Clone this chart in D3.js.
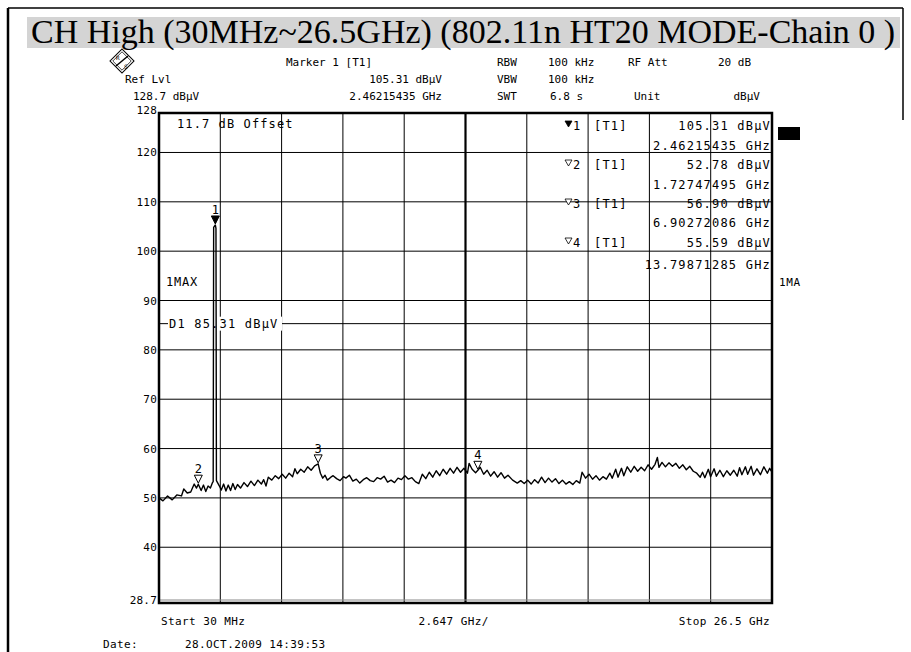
<!DOCTYPE html>
<html><head><meta charset="utf-8">
<script src="https://cdn.jsdelivr.net/npm/d3@7/dist/d3.min.js"></script>
<style>
html,body{margin:0;padding:0;background:#fff;}
svg text{font-family:"DejaVu Sans Mono","Liberation Mono",monospace;}
</style></head>
<body>
<svg id="c" width="911" height="652"></svg>
<script>
// ---- data ----
const titleText = "CH High (30MHz~26.5GHz) (802.11n HT20 MODE-Chain 0 )";
const startGHz = 0.03, stopGHz = 26.5, spanPerDiv = 2.647;
const refLevel = 128, bottomLevel = 28.7;
const yTickValues = [120, 110, 100, 90, 80, 70, 60, 50, 40];
const yTickLabels = ["128","120","110","100","90","80","70","60","50","40","28.7"];
const displayLine = 85.31;
// trace: frequency (GHz) and level (dBµV), read point by point
const traceFreq = [
 0.03,0.2,0.4,0.6,0.8,1.0,1.1,1.25,1.4,1.55,
 1.65,1.727,1.85,1.95,2.05,2.15,2.25,2.34,2.37,2.39,
 2.462,2.49,2.51,2.64,2.72,2.82,2.92,3.02,3.12,3.22,
 3.32,3.42,3.55,3.7,3.85,4.0,4.15,4.3,4.45,4.55,
 4.65,4.75,4.9,5.05,5.2,5.35,5.5,5.65,5.8,5.9,
 6.0,6.15,6.3,6.45,6.6,6.75,6.903,7.0,7.1,7.2,
 7.3,7.45,7.55,7.7,7.85,8.0,8.1,8.25,8.4,8.55,
 8.7,8.85,9.0,9.15,9.3,9.45,9.6,9.75,9.9,10.05,
 10.2,10.35,10.5,10.65,10.8,10.95,11.1,11.25,11.4,11.55,
 11.7,11.85,12.0,12.15,12.3,12.45,12.6,12.75,12.9,13.05,
 13.2,13.35,13.42,13.55,13.7,13.799,13.9,14.05,14.2,14.35,
 14.5,14.65,14.8,14.95,15.1,15.3,15.5,15.65,15.8,15.95,
 16.1,16.25,16.4,16.55,16.7,16.85,17.0,17.15,17.3,17.45,
 17.6,17.75,17.9,18.05,18.2,18.3,18.45,18.6,18.75,18.9,
 19.05,19.2,19.35,19.5,19.6,19.75,19.85,20.0,20.1,20.25,
 20.4,20.55,20.7,20.85,21.0,21.15,21.3,21.45,21.55,21.62,
 21.75,21.9,22.05,22.2,22.35,22.5,22.65,22.8,22.95,23.1,
 23.25,23.4,23.5,23.6,23.75,23.85,24.0,24.1,24.25,24.4,
 24.55,24.7,24.85,25.0,25.1,25.2,25.35,25.45,25.6,25.7,
 25.85,26.0,26.15,26.3,26.4,26.5];
const traceLevel = [
 50.0,49.4,50.4,49.6,50.6,50.4,51.8,51.0,51.2,52.8,
 52.0,52.78,51.5,52.6,51.3,52.4,52.0,53.1,53.3,104.8,
 105.31,104.6,53.5,52.4,51.6,52.8,51.4,52.6,51.5,52.9,
 51.7,52.7,52.0,53.1,52.3,53.4,52.5,53.6,52.8,53.7,
 52.4,54.2,53.6,54.5,53.9,54.8,54.0,55.0,54.3,55.9,
 54.9,55.8,55.2,56.3,55.6,56.5,56.9,55.0,54.0,54.6,
 53.6,54.2,54.5,53.9,53.5,54.3,54.0,54.6,53.4,53.8,
 53.0,53.7,54.1,53.5,53.3,54.1,53.8,54.4,53.2,53.6,
 53.1,54.0,53.7,54.5,53.8,54.1,53.3,52.9,54.8,53.9,
 55.2,54.2,55.5,54.5,55.8,54.8,56.0,55.0,56.2,55.2,
 56.0,55.0,57.0,55.8,55.1,55.59,56.2,54.8,55.6,54.4,
 55.3,54.2,55.1,54.0,54.6,53.6,53.0,53.5,52.9,53.6,
 52.8,53.7,53.0,54.2,53.1,54.0,53.2,53.9,52.9,53.6,
 52.8,53.3,52.7,53.5,53.0,55.2,54.0,54.8,53.8,54.5,
 53.6,54.3,53.8,55.0,54.0,55.8,54.2,56.0,54.5,56.3,
 55.2,56.4,55.4,56.2,55.5,56.7,55.8,56.8,58.2,56.2,
 57.2,56.3,57.1,56.4,57.0,56.0,56.7,55.7,56.4,55.4,
 55.0,54.2,55.2,54.1,55.8,54.3,55.9,54.4,55.6,54.3,
 55.5,54.6,55.6,54.4,56.1,54.7,56.3,54.8,56.4,54.6,
 55.9,54.7,56.3,55.0,56.0,55.2];
// markers
const markerNames = ["1","2","3","4"];
const markerFreq = [2.46215435, 1.72747495, 6.90272086, 13.79871285];
const markerLevel = [105.31, 52.78, 56.90, 55.59];
const markerFreqText = ["2.46215435 GHz","1.72747495 GHz","6.90272086 GHz","13.79871285 GHz"];
const markerLevelText = ["105.31 dBµV","52.78 dBµV","56.90 dBµV","55.59 dBµV"];
// header texts
const headerRow1 = [["Marker 1 [T1]",286,"start"],["RBW",497,"start"],["100 kHz",548,"start"],["RF Att",628,"start"],["20 dB",718,"start"]];
const headerRow2 = [["Ref Lvl",125,"start"],["105.31 dBµV",442,"end"],["VBW",497,"start"],["100 kHz",548,"start"]];
const headerRow3 = [["128.7 dBµV",133,"start"],["2.46215435 GHz",442,"end"],["SWT",497,"start"],["6.8 s",550,"start"],["Unit",634,"start"],["dBµV",760,"end"]];
const footerText = ["Start 30 MHz","2.647 GHz/","Stop 26.5 GHz"];
const dateLabel = "Date:", dateValue = "28.OCT.2009  14:39:53";

// ---- drawing ----
const svg = d3.select("#c");
const X0 = 159, X1 = 772, Y0 = 113, Y1 = 603;
const x = d3.scaleLinear().domain([startGHz, stopGHz]).range([X0, X1]);
const y = d3.scaleLinear().domain([bottomLevel, refLevel]).range([Y1, Y0]);

// outer frame (left, top, right stub)
svg.append("line").attr("x1",8).attr("x2",8).attr("y1",8).attr("y2",652).attr("stroke","#000").attr("stroke-width",2.5);
svg.append("line").attr("x1",8).attr("x2",903).attr("y1",8).attr("y2",8).attr("stroke","#000").attr("stroke-width",1.5);
svg.append("line").attr("x1",903).attr("x2",903).attr("y1",8).attr("y2",120).attr("stroke","#000").attr("stroke-width",1.5);

// title
svg.append("rect").attr("x",27).attr("y",17).attr("width",873).attr("height",31).attr("fill","#d4d4d4");
svg.append("text").attr("x",31).attr("y",43).text(titleText)
  .style("font-family","'Liberation Serif','Times New Roman',serif").style("font-size","34px").attr("fill","#000");

// logo
const logo = svg.append("g").attr("transform","translate(122,61) rotate(45)");
logo.append("rect").attr("x",-8.5).attr("y",-8.5).attr("width",17).attr("height",17).attr("fill","#fff").attr("stroke","#000").attr("stroke-width",1);
logo.append("rect").attr("x",-6.5).attr("y",-6.5).attr("width",13).attr("height",13).attr("fill","none").attr("stroke","#000").attr("stroke-width",0.7);
svg.append("line").attr("x1",116).attr("y1",66).attr("x2",128).attr("y2",56).attr("stroke","#000").attr("stroke-width",1.5);
svg.append("text").attr("x",116).attr("y",60).text("R").style("font-size","6px");
svg.append("text").attr("x",124).attr("y",69).text("S").style("font-size","6px");

const hdr = svg.append("g").style("font-size","11px");
function hrow(rows, yy){
  rows.forEach(r => hdr.append("text").attr("x", r[1]).attr("y", yy).attr("text-anchor", r[2]).text(r[0]));
}
hrow(headerRow1, 66);
hrow(headerRow2, 83);
hrow(headerRow3, 100);

// grid
const g = svg.append("g");
const divs = d3.range(11).map(i => startGHz + i*spanPerDiv);
g.selectAll(".vg").data(divs).enter().append("line")
  .attr("x1", d => x(d)).attr("x2", d => x(d)).attr("y1", Y0).attr("y2", Y1)
  .attr("stroke","#000").attr("stroke-width",(d,i)=> i===5 ? 2.2 : 1);
g.selectAll(".hg").data(yTickValues).enter().append("line")
  .attr("x1", X0).attr("x2", X1).attr("y1", d => y(d)).attr("y2", d => y(d))
  .attr("stroke","#000").attr("stroke-width",1);
g.append("line").attr("x1",X0).attr("x2",X1).attr("y1",Y1-3).attr("y2",Y1-3).attr("stroke","#888").attr("stroke-width",1);

// y labels
const yl = svg.append("g").style("font-size","11px").style("letter-spacing","0.2px").attr("text-anchor","end");
const yLabelVals = [refLevel, ...yTickValues, bottomLevel];
yl.selectAll("text").data(yLabelVals).enter().append("text")
  .attr("x", 157).attr("y", (d,i) => y(d) + (i===0 ? 1 : (i===yLabelVals.length-1 ? 1 : 4))).text((d,i) => yTickLabels[i]);

// display line D1
svg.append("line").attr("x1",X0).attr("x2",X1).attr("y1",y(displayLine)).attr("y2",y(displayLine)).attr("stroke","#000").attr("stroke-width",1);
svg.append("rect").attr("x",168).attr("y",y(displayLine)-7).attr("width",114).attr("height",14).attr("fill","#fff");
svg.append("text").attr("x",169).attr("y",y(displayLine)+4).text("D1 " + displayLine.toFixed(2) + " dBµV").style("font-size","12px").style("letter-spacing","1.2px");

// annotations inside
svg.append("text").attr("x",177).attr("y",128).text("11.7 dB Offset").style("font-size","12px").style("letter-spacing","1.1px");
svg.append("text").attr("x",166).attr("y",286).text("1MAX").style("font-size","12px").style("letter-spacing","0.8px");
svg.append("text").attr("x",779).attr("y",286).text("1MA").style("font-size","11px").style("letter-spacing","0.6px");
svg.append("rect").attr("x",778).attr("y",127).attr("width",22).attr("height",13).attr("fill","#000");

// marker table
const tbl = svg.append("g").style("font-size","12px").style("letter-spacing","1.2px");
const rowY = [130, 150, 169, 189, 208, 227, 247, 269];
markerNames.forEach((m,i) => {
  const yy = rowY[i*2];
  const tx = 565, ty = yy - 9;
  tbl.append("path").attr("d", `M${tx},${ty}L${tx+7},${ty}L${tx+3.5},${ty+6}Z`)
     .attr("fill", i===0 ? "#000" : "#fff").attr("stroke","#000").attr("stroke-width",0.8);
  tbl.append("text").attr("x",573).attr("y",yy).text(m);
  tbl.append("text").attr("x",594).attr("y",yy).text("[T1]");
  tbl.append("text").attr("x",771).attr("y",yy).attr("text-anchor","end").text(markerLevelText[i]);
  tbl.append("text").attr("x",771).attr("y",rowY[i*2+1]).attr("text-anchor","end").text(markerFreqText[i]);
});

// trace
const pts = traceFreq.map((f,i) => [f, traceLevel[i]]);
svg.append("path").datum(pts)
  .attr("d", d3.line().x(d => x(d[0])).y(d => y(d[1])))
  .attr("fill","none").attr("stroke","#000").attr("stroke-width",1.4).attr("stroke-linejoin","round");

// markers on trace
markerNames.forEach((m,i) => {
  const mx = x(markerFreq[i]), my = y(markerLevel[i]);
  svg.append("path").attr("d", `M${mx-4},${my-9}L${mx+4},${my-9}L${mx},${my-1}Z`)
    .attr("fill", i===0 ? "#000" : "#fff").attr("stroke","#000").attr("stroke-width",1);
  svg.append("text").attr("x",mx).attr("y",my-11).attr("text-anchor","middle").text(m).style("font-size","12px");
});

// frame of plot
svg.append("rect").attr("x",X0).attr("y",Y0).attr("width",X1-X0).attr("height",Y1-Y0)
  .attr("fill","none").attr("stroke","#000").attr("stroke-width",2.5);

// footer
const ft = svg.append("g").style("font-size","11px").style("letter-spacing","0.4px");
ft.append("text").attr("x",161).attr("y",625).text(footerText[0]);
ft.append("text").attr("x",x(startGHz + 5*spanPerDiv)-47).attr("y",625).text(footerText[1]);
ft.append("text").attr("x",770).attr("y",625).attr("text-anchor","end").text(footerText[2]);
ft.append("text").attr("x",103).attr("y",648).text(dateLabel);
ft.append("text").attr("x",185).attr("y",648).text(dateValue);
</script>
</body></html>
